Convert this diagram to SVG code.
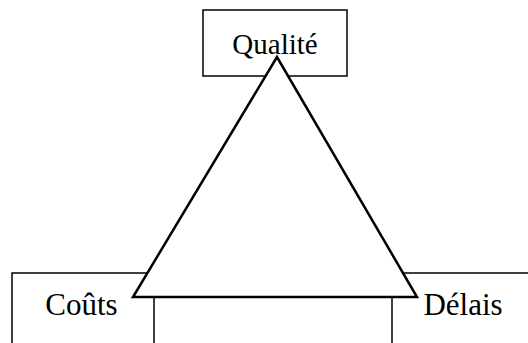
<svg xmlns="http://www.w3.org/2000/svg" width="528" height="343" viewBox="0 0 528 343">
<style>
.box{fill:#fff;stroke:#000;stroke-width:1.5}
.lbl{font-family:"Liberation Serif","Times New Roman",serif;font-size:29px;fill:#000}
.big{font-size:31px}
.tri{fill:#fff;stroke:#000;stroke-width:2.5;stroke-linejoin:miter}
</style>
<rect width="528" height="343" fill="#fff"/>
<g id="qualite">
<rect class="box" x="203" y="10" width="144" height="66"/>
<text class="lbl" x="275" y="54" text-anchor="middle">Qualité</text>
</g>
<g id="couts">
<rect class="box" x="12" y="273" width="142" height="90"/>
<text class="lbl big" x="81.5" y="315" text-anchor="middle">Coûts</text>
</g>
<g id="delais">
<rect class="box" x="392" y="273" width="160" height="90"/>
<text class="lbl big" x="463" y="315" text-anchor="middle">Délais</text>
</g>
<g id="connectors">
<polygon class="tri" points="277,57 133,297 417,297"/>
</g>
</svg>
